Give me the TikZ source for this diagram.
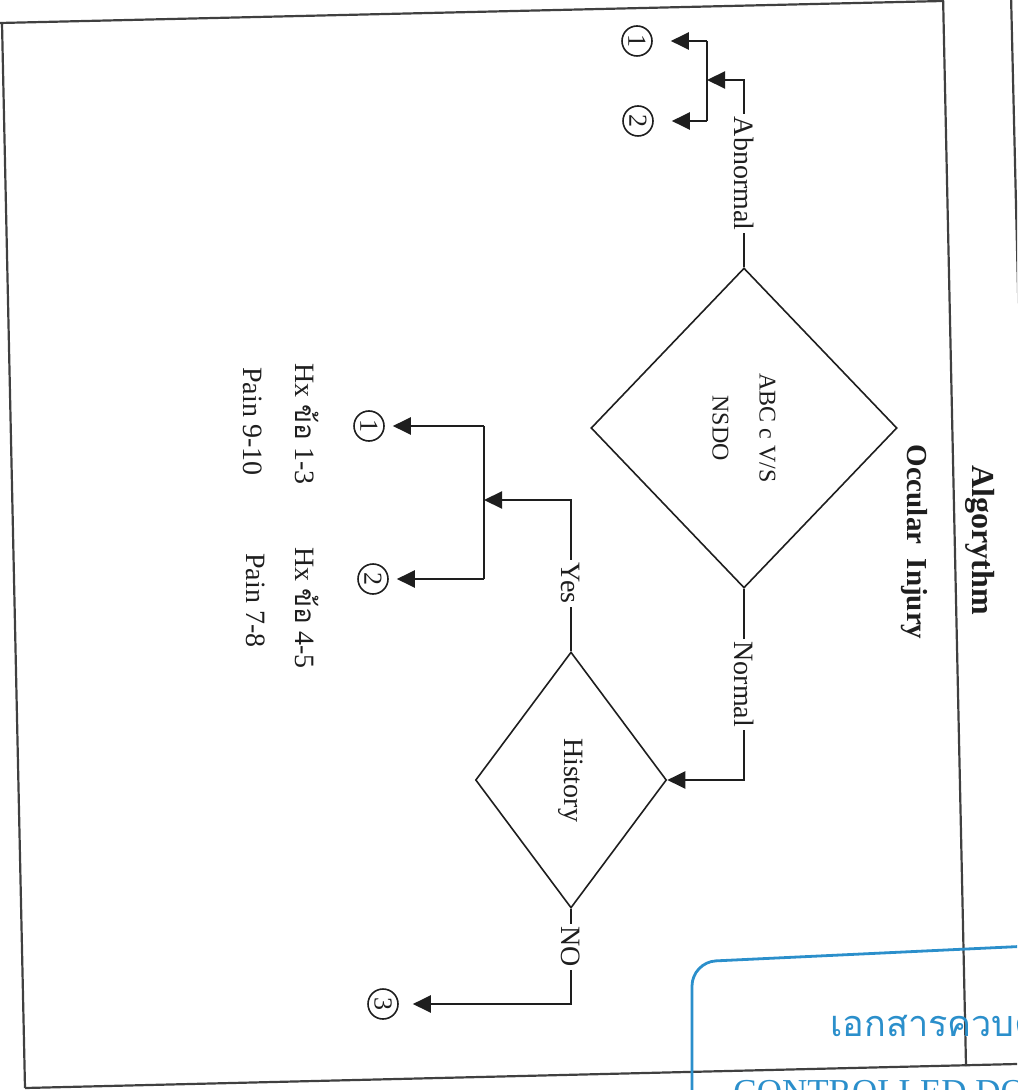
\documentclass[tikz,border=0pt]{standalone}
\usepackage{fontspec}
\setmainfont{Liberation Serif}
\newfontfamily\thaifont[Script=Thai]{Loma}
\definecolor{mInk}{HTML}{1E1E1E}
\definecolor{mStamp}{HTML}{2B8FCB}
\usetikzlibrary{arrows.meta,shapes.geometric}

\begin{document}
\begin{tikzpicture}[x=0.5pt, y=-0.5pt, mInk, font=\fontsize{14}{17}\selectfont,
  dec/.style={draw, diamond, rotate=-90, inner sep=0pt, line width=0.8pt, align=center},
  lbl/.style={fill=white, rotate=-90, inner sep=1.5pt},
  conn/.style={line width=1.1pt, -{Triangle[length=9pt,width=8.5pt]}},
  numc/.style={draw, circle, rotate=-90, inner sep=0pt, minimum size=15pt, line width=0.8pt, font=\fontsize{13}{13}\selectfont},
  note/.style={rotate=-90, anchor=west, inner sep=0pt},
  frame/.style={line width=1.1pt, mInk!85}]
\useasboundingbox (0,0) rectangle (1017,1090);
\clip (0,0) rectangle (1017,1090);
% sheet lines
\draw[frame] (0,23) -- (943,1);
\draw[frame] (2,23) -- (25,1088);
\draw[frame] (25,1088) -- (1017,1064);
\draw[frame] (943,-5) -- (966,1066);
\draw[frame] (1011,-5) -- (1023,500);
% titles
\node[rotate=-90, font=\bfseries\fontsize{16}{19}\selectfont] (ttl) at (980,540) {Algorythm};
\node[rotate=-90, font=\bfseries\fontsize{14.5}{17}\selectfont] (sub) at (914,542) {Occular\ \ Injury};
% decisions
\node[dec, minimum width=160pt, minimum height=153pt, font=\fontsize{12}{23.5}\selectfont] (abc) at (744,428) {ABC c V/S\\NSDO};
\node[dec, minimum width=128pt, minimum height=95.5pt] (hist) at (571,780) {History};
% abnormal branch
\coordinate (abnfork) at (707,80);
\node[numc] (a1) at (637,41) {1};
\node[numc] (a2) at (638,121) {2};
\draw[conn] (abc.west) -- node[lbl] (abnlbl) {Abnormal} (abc.west |- abnfork) -- (abnfork);
\draw[line width=1.1pt] (abnfork |- a1) -- (abnfork |- a2);
\draw[conn, shorten >=9pt] (abnfork |- a1) -- (a1);
\draw[conn, shorten >=9pt] (abnfork |- a2) -- (a2);
% normal branch
\draw[conn] (abc.east) -- node[lbl] (nrmlbl) {Normal} (abc.east |- hist.north) -- (hist.north);
% yes branch
\coordinate (yesfork) at (484,500);
\node[numc] (y1) at (369,426) {1};
\node[numc] (y2) at (373,579) {2};
\draw[conn] (hist.west) -- node[lbl, pos=0.45] (yeslbl) {Yes} (hist.west |- yesfork) -- (yesfork);
\draw[line width=1.1pt] (yesfork |- y1) -- (yesfork |- y2);
\draw[conn, shorten >=4pt] (yesfork |- y1) -- (y1);
\draw[conn, shorten >=4pt] (yesfork |- y2) -- (y2);
\node[note] (hx13) at (307,363) {Hx {\thaifont ข้อ} 1-3};
\node[note] (pn910) at (253,367) {Pain 9-10};
\node[note] (hx45) at (307,547) {Hx {\thaifont ข้อ} 4-5};
\node[note] (pn78) at (256,553) {Pain 7-8};
% no branch
\node[numc] (n3) at (383,1004) {3};
\draw[conn, shorten >=7pt] (hist.east) -- node[lbl, pos=0.4] (nolbl) {NO} (hist.east |- n3) -- (n3);
% stamp
\draw[mStamp, line width=1.4pt, rounded corners=12pt] (692,1100) -- (692,962) -- (1030,946);
\node[mStamp, anchor=base west, inner sep=0pt, font=\thaifont\fontsize{18}{21}\selectfont] (stampth) at (830,1036) {เอกสารควบคุ};
\node[mStamp, anchor=north west, inner sep=0pt, font=\fontsize{17.5}{20}\selectfont] (stampen) at (733,1080) {CONTROLLED DOC};
\end{tikzpicture}
\end{document}
